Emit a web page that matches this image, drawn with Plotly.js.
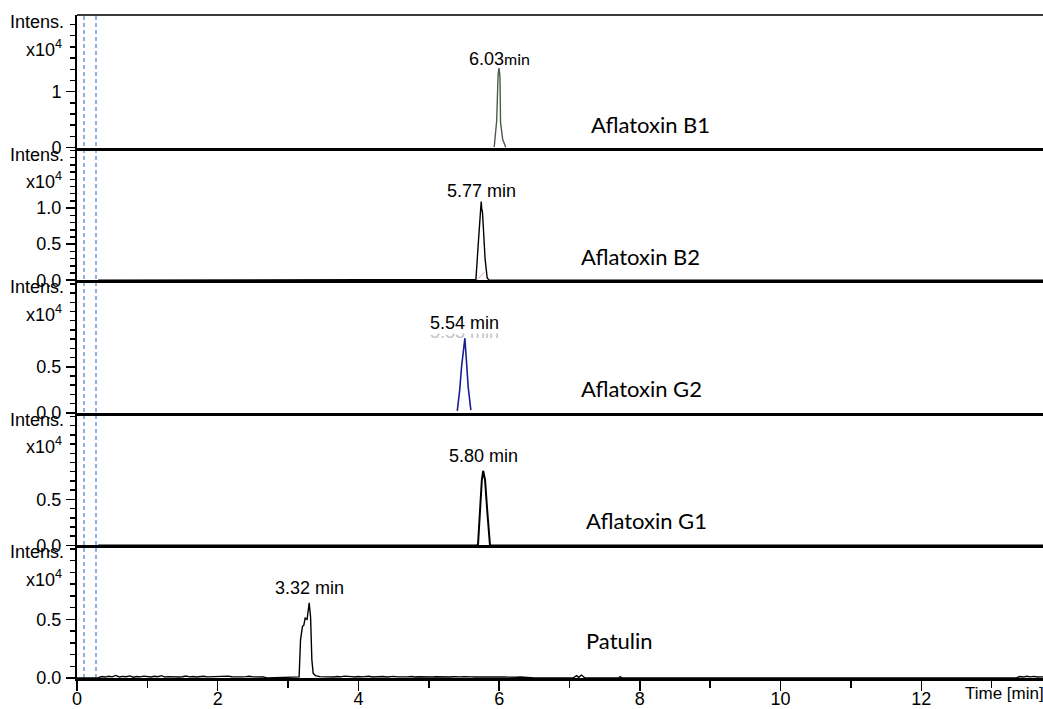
<!DOCTYPE html>
<html>
<head>
<meta charset="utf-8">
<script src="https://cdn.plot.ly/plotly-3.0.1.min.js"></script>
<style>html,body{margin:0;padding:0;background:#fff;}#chart{width:1043px;height:709px;}</style>
</head>
<body>
<div id="chart"></div>
<script>
// ---------------- data ----------------
const timeRange = [0, 13.73];
const markerTimes = [0.10, 0.27];
const compounds = ['Aflatoxin B1', 'Aflatoxin B2', 'Aflatoxin G2', 'Aflatoxin G1', 'Patulin'];
const peakLabels = ['6.03', '5.77 min', '5.54 min', '5.80 min', '3.32 min'];
const ghostLabel = '5.53 min';

const b1Time = [5.930, 5.965, 5.985, 5.997, 6.005, 6.012, 6.020, 6.050, 6.095];
const b1Int  = [0.010, 0.480, 1.300, 1.420, 1.350, 1.250, 0.450, 0.150, 0.000];

const b2Time = [0.30, 5.64, 5.670, 5.707, 5.725, 5.738, 5.745, 5.752, 5.764, 5.783, 5.800, 5.830, 5.86, 13.73];
const b2Int  = [0.00, 0.00, 0.010, 0.560, 0.810, 1.000, 1.090, 1.000, 0.930, 0.600, 0.300, 0.030, 0.00, 0.00];
const b2MinorTime = [5.68, 5.73, 5.79];
const b2MinorInt  = [0.00, 0.05, 0.11];

const g2Time = [5.405, 5.440, 5.466, 5.490, 5.513, 5.536, 5.560, 5.598];
const g2Int  = [0.020, 0.250, 0.500, 0.680, 0.810, 0.555, 0.280, 0.030];

const g1Time = [0.30, 5.68, 5.700, 5.736, 5.754, 5.773, 5.800, 5.830, 5.858, 5.87, 13.73];
const g1Int  = [0.00, 0.00, 0.010, 0.570, 0.710, 0.810, 0.710, 0.385, 0.060, 0.00, 0.00];

const patNoiseATime = [0.00,
  0.30,0.35,0.40,0.45,0.50,0.55,0.60,0.65,0.70,0.75,
  0.80,0.85,0.90,0.95,1.00,1.05,1.10,1.15,1.20,1.25,
  1.30,1.35,1.40,1.45,1.50,1.55,1.60,1.65,1.70,1.75,
  1.80,1.85,1.90,1.95,2.00,2.05,2.10,2.15,2.20,2.25,
  2.30,2.35,2.40,2.45,2.50,2.55,2.60,2.65,2.70];
const patNoiseAInt = [0.000,
  0.000,0.012,0.008,0.015,0.010,0.022,0.009,0.014,0.011,0.018,
  0.007,0.013,0.010,0.016,0.012,0.009,0.015,0.011,0.020,0.008,
  0.012,0.010,0.014,0.009,0.011,0.017,0.010,0.013,0.008,0.012,
  0.015,0.010,0.011,0.009,0.014,0.012,0.010,0.016,0.011,0.009,
  0.013,0.010,0.012,0.015,0.010,0.008,0.012,0.009,0.000];
const patPeakTime = [3.157,3.177,3.190,3.205,3.224,3.243,3.270,3.290,3.300,3.320,3.338,3.357,3.390];
const patPeakInt  = [0.010,0.325,0.400,0.440,0.450,0.510,0.500,0.580,0.640,0.520,0.155,0.040,0.020];
const patNoiseBTime = [
  3.45,3.50,3.55,3.60,3.65,3.70,3.75,3.80,3.85,3.90,
  3.95,4.00,4.05,4.10,4.15,4.20,4.25,4.30,4.35,4.40,
  4.45,4.50,4.55,4.60,4.65,4.70,4.75,4.80,4.85,4.90,
  4.95,5.00,5.05,5.10,5.15,5.20,5.25,5.30,5.35,5.40,
  5.45,5.50,5.55,5.60,5.65,5.70,5.75,5.80,5.85,5.90,
  5.95,6.00,6.05,6.10,6.15,6.20,6.25,6.30,6.35,6.40,
  6.45,6.50];
const patNoiseBInt = [
  0.012,0.010,0.014,0.011,0.009,0.013,0.010,0.016,0.011,0.012,
  0.009,0.013,0.010,0.011,0.015,0.009,0.012,0.010,0.013,0.008,
  0.011,0.014,0.010,0.009,0.012,0.010,0.013,0.008,0.011,0.009,
  0.012,0.010,0.008,0.011,0.009,0.012,0.010,0.008,0.011,0.009,
  0.010,0.012,0.008,0.010,0.009,0.011,0.008,0.010,0.009,0.011,
  0.008,0.010,0.009,0.007,0.010,0.008,0.006,0.009,0.007,0.005,
  0.006,0.000];
const patNoiseCTime = [7.05, 7.10, 7.13, 7.17, 7.22, 7.70, 7.72, 7.75];
const patNoiseCInt  = [0.000,0.020,0.005,0.025,0.000,0.000,0.012,0.000];
const patNoiseDTime = [13.35,13.40,13.45,13.50,13.55,13.60,13.65,13.70,13.73];
const patNoiseDInt  = [0.000,0.012,0.008,0.015,0.010,0.014,0.009,0.013,0.010];

const patTime = [].concat(patNoiseATime, patPeakTime, patNoiseBTime, patNoiseCTime, patNoiseDTime);
const patInt  = [].concat(patNoiseAInt, patPeakInt, patNoiseBInt, patNoiseCInt, patNoiseDInt);

// ---------------- panels (top to bottom) ----------------
const FONT = 'Liberation Sans, Arial, sans-serif';
const panels = [
  {ax: '5', t: b1Time, v: b1Int, color: '#4b5a4b', width: 1.4, top: 2.37, tickvals: [0, 1], ticktext: ['0', '1'], minor: 0.2, lblShift: 9, lblX: 1},
  {ax: '4', t: b2Time, v: b2Int, color: '#000000', width: 1.4, top: 1.84, tickvals: [0, 0.5, 1.0], ticktext: ['0.0', '0.5', '1.0'], minor: 0.1, lblShift: 11, lblX: 0},
  {ax: '3', t: g2Time, v: g2Int, color: '#1c1c96', width: 1.6, top: 1.44, tickvals: [0, 0.5], ticktext: ['0.0', '0.5'], minor: 0.1, lblShift: 15, lblX: 0},
  {ax: '2', t: g1Time, v: g1Int, color: '#000000', width: 2.0, top: 1.44, tickvals: [0, 0.5], ticktext: ['0.0', '0.5'], minor: 0.1, lblShift: 15, lblX: 0},
  {ax: '',  t: patTime, v: patInt, color: '#000000', width: 1.4, top: 1.13, tickvals: [0, 0.5], ticktext: ['0.0', '0.5'], minor: 0.1, lblShift: 15, lblX: 0}
];

const traces = [];
const layout = {
  width: 1043, height: 709,
  margin: {l: 77, r: 0, t: 15, b: 31, pad: 0},
  paper_bgcolor: '#fff', plot_bgcolor: '#fff',
  showlegend: false,
  font: {family: FONT, size: 18, color: '#000'},
  annotations: [], shapes: []
};

panels.forEach((p, i) => {
  const xa = 'x' + p.ax, ya = 'y' + p.ax;
  const xKey = 'xaxis' + p.ax, yKey = 'yaxis' + p.ax;
  const d0 = (4 - i) * 0.2, d1 = d0 + 0.2;
  traces.push({x: p.t, y: p.v, xaxis: xa, yaxis: ya, mode: 'lines',
    line: {color: p.color, width: p.width}, hoverinfo: 'skip'});
  const isBottom = p.ax === '';
  layout[xKey] = {
    anchor: ya, range: timeRange, showgrid: false, zeroline: false,
    showline: true, linecolor: '#000', linewidth: 3,
    showticklabels: isBottom, ticks: isBottom ? 'outside' : '',
    tickmode: 'linear', tick0: 0, dtick: 2, ticklen: 10, tickwidth: 1.5, tickcolor: '#000',
    tickfont: {family: FONT, size: 18, color: '#000'},
    ticklabelstandoff: -8,
    fixedrange: true
  };
  if (isBottom) {
    layout[xKey].minor = {ticks: 'outside', ticklen: 7, tickwidth: 1.5, tickcolor: '#000', tickmode: 'linear', tick0: 0, dtick: 1, showgrid: false};
  } else {
    layout[xKey].matches = 'x';
  }
  layout[yKey] = {
    anchor: xa, domain: [d0, d1], range: [0, p.top],
    showgrid: false, zeroline: false,
    showline: true, linecolor: '#000', linewidth: 2,
    ticks: 'outside', ticklen: 9, tickwidth: 1.5, tickcolor: '#000',
    tickmode: 'array', tickvals: p.tickvals, ticktext: p.ticktext,
    tickfont: {family: FONT, size: 18, color: '#000'},
    ticklabelstandoff: 1,
    minor: {ticks: 'outside', ticklen: 5, tickwidth: 1.5, tickcolor: '#000', tickmode: 'linear', tick0: 0, dtick: p.minor, showgrid: false},
    fixedrange: true
  };

  // axis captions
  layout.annotations.push({xref: 'paper', yref: 'paper', x: 0, y: d1, xanchor: 'right', yanchor: 'middle',
    xshift: -11, yshift: -7, text: 'Intens.', showarrow: false, font: {family: FONT, size: 18, color: '#000'}});
  layout.annotations.push({xref: 'paper', yref: 'paper', x: 0, y: d1, xanchor: 'right', yanchor: 'middle',
    xshift: -13, yshift: -33, text: 'x10<sup>4</sup>', showarrow: false, font: {family: FONT, size: 18, color: '#000'}});

  // compound name
  layout.annotations.push({xref: 'paper', yref: 'paper', x: [0.530, 0.520, 0.520, 0.525, 0.525][i],
    y: d0 + [0.0345, 0.0365, 0.037, 0.038, 0.0573][i], xanchor: 'left', yanchor: 'middle',
    text: compounds[i], showarrow: false, font: {family: 'Lato, sans-serif', size: 22, color: '#000'}});

  // peak label at apex
  let k = 0;
  p.v.forEach((val, j) => { if (val > p.v[k]) k = j; });
  if (i === 2) {
    layout.annotations.push({xref: xa, yref: ya, x: p.t[k], y: p.v[k], xanchor: 'center', yanchor: 'middle',
      xshift: p.lblX, yshift: p.lblShift - 9, text: ghostLabel, showarrow: false,
      font: {family: FONT, size: 18, color: '#c4c4c4'}});
  }
  const txt = i === 0 ? peakLabels[0] + "<span style='font-family:Lato;font-size:16px'>min</span>" : peakLabels[i];
  layout.annotations.push({xref: xa, yref: ya, x: p.t[k], y: p.v[k], xanchor: 'center', yanchor: 'middle',
    xshift: p.lblX, yshift: p.lblShift, text: txt, showarrow: false, bgcolor: i === 2 ? '#fff' : 'rgba(0,0,0,0)',
    borderpad: 0, font: {family: FONT, size: 18, color: '#000'}});
});

// minor pink trace in the B2 panel
traces.push({x: b2MinorTime, y: b2MinorInt, xaxis: 'x4', yaxis: 'y4', mode: 'lines',
  line: {color: '#d9a3a3', width: 1}, hoverinfo: 'skip'});

// x-axis caption
layout.annotations.push({xref: 'paper', yref: 'paper', x: 1, y: 0, xanchor: 'right', yanchor: 'middle',
  xshift: 3, yshift: -15, text: 'Time [min]', showarrow: false, font: {family: FONT, size: 17, color: '#000'}});

// top frame line and dashed markers
layout.shapes.push({type: 'line', xref: 'paper', yref: 'paper', x0: 0, x1: 1, y0: 1, y1: 1,
  line: {color: '#3a3a3a', width: 2}, layer: 'above'});
markerTimes.forEach(t => layout.shapes.push({type: 'line', xref: 'x', yref: 'paper', x0: t, x1: t, y0: 0, y1: 1,
  line: {color: '#6b9bd0', width: 1.5, dash: '4px,3px'}, layer: 'below'}));

Plotly.newPlot('chart', traces, layout, {staticPlot: true, displayModeBar: false});
</script>
</body>
</html>
